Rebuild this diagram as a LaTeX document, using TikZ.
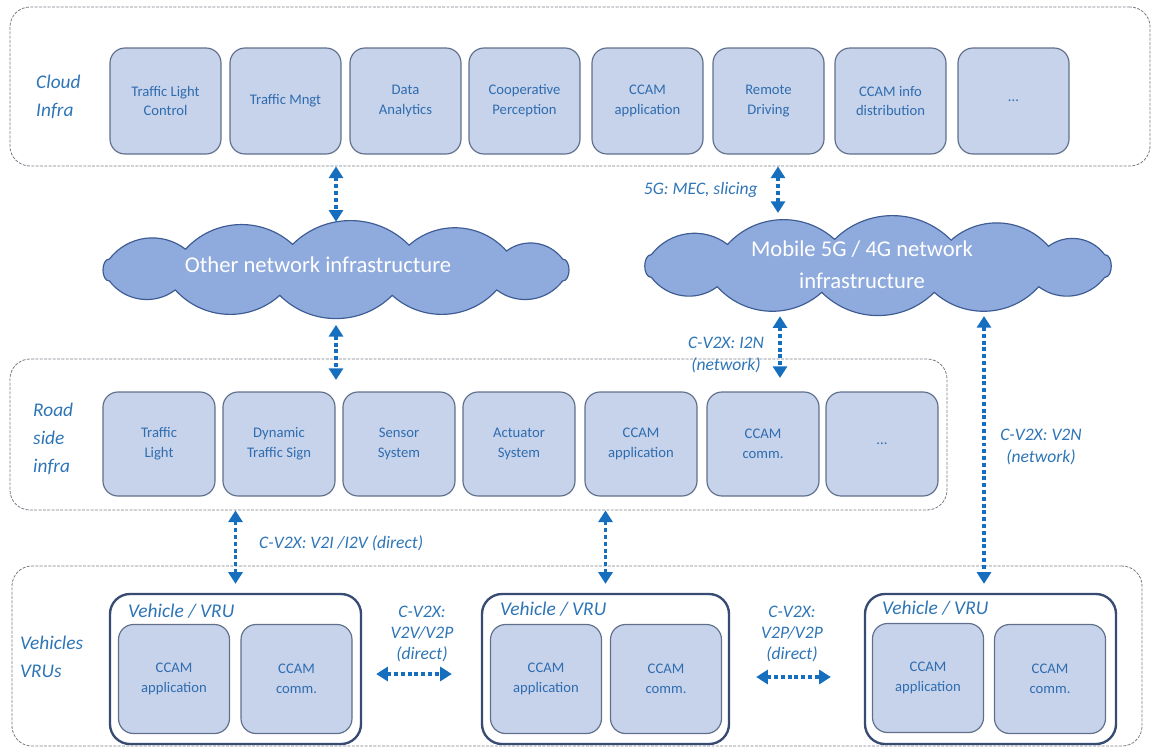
\documentclass[tikz,border=0pt]{standalone}
\usepackage{fontspec}
\setmainfont{Carlito}
\usetikzlibrary{arrows.meta,calc}
\definecolor{txtblue}{RGB}{46,117,182}
\definecolor{boxtxt}{RGB}{47,108,176}
\definecolor{boxfill}{RGB}{198,211,234}
\definecolor{boxdraw}{RGB}{96,112,140}
\definecolor{arrblue}{RGB}{22,110,190}
\definecolor{cloudfill}{RGB}{143,170,220}
\definecolor{clouddraw}{RGB}{62,92,148}
\definecolor{dashgray}{RGB}{120,125,135}
\definecolor{vehdraw}{RGB}{55,75,115}
\begin{document}
\begin{tikzpicture}[x=0.03cm,y=-0.03cm,
  group/.style={draw=dashgray, dash pattern=on 2.5pt off 1.2pt, line width=0.7pt, rounded corners=0.6cm},
  app/.style={draw=boxdraw, fill=boxfill, line width=1pt, rounded corners=0.45cm,
    minimum width=3.33cm, minimum height=3.18cm, align=center, text=boxtxt,
    font=\fontsize{12.5}{17}\selectfont, inner sep=2pt},
  rsu/.style={app, minimum width=3.36cm, minimum height=3.12cm},
  inner/.style={app, minimum width=3.33cm, minimum height=3.27cm},
  veh/.style={draw=vehdraw, fill=white, line width=2pt, rounded corners=0.6cm, minimum height=4.5cm},
  vtitle/.style={text=txtblue, font=\fontsize{16.6}{20}\selectfont\itshape, inner sep=0pt, anchor=west},
  layer/.style={text=txtblue, font=\fontsize{16.5}{24}\selectfont\itshape, align=left, anchor=west, inner sep=0pt},
  lbl/.style={text=txtblue, font=\fontsize{15}{18}\selectfont\itshape, align=center, inner sep=0pt},
  cloudarea/.style={inner sep=0pt},
  cloudpath/.style={fill=cloudfill, draw=clouddraw, line width=1pt},
  cloudtxt/.style={text=white, font=\fontsize{19.3}{27}\selectfont, align=center, inner sep=0pt},
  arr/.style={arrblue, line width=2.7pt, dash pattern=on 3.4pt off 2.4pt,
    {Triangle[width=12pt,length=10pt]}-{Triangle[width=12pt,length=10pt]}}
]
\useasboundingbox (0,0) rectangle (1155,750);

% layer containers
\node[group, minimum width=34.2cm, minimum height=4.77cm] (cinfra) at (580,86.5) {};
\node[group, minimum width=28.11cm, minimum height=4.53cm] (rinfra) at (478.5,434.5) {};
\node[group, minimum width=33.9cm, minimum height=5.4cm] (vinfra) at (577,656) {};

\node[layer] (lcloud) at (36,97) {Cloud\\Infra};
\node[layer] (lroad) at (33,439) {Road\\side\\infra};
\node[layer] (lveh) at (20,657) {Vehicles\\VRUs};

% cloud infra boxes
\node[app] (c1) at (165.5,101) {Traffic Light\\Control};
\node[app] (c2) at (285.5,101) {Traffic Mngt};
\node[app] (c3) at (405.5,101) {Data\\Analytics};
\node[app] (c4) at (524.5,101) {Cooperative\\Perception};
\node[app] (c5) at (647.5,101) {CCAM\\application};
\node[app] (c6) at (768.5,101) {Remote\\Driving};
\node[app] (c7) at (890.5,101) {CCAM info\\distribution};
\node[app] (c8) at (1013.5,101) {...};

% road side boxes
\node[rsu] (r1) at (159,444) {Traffic\\Light};
\node[rsu] (r2) at (279,444) {Dynamic\\Traffic Sign};
\node[rsu] (r3) at (399,444) {Sensor\\System};
\node[rsu] (r4) at (519,444) {Actuator\\System};
\node[rsu] (r5) at (641,444) {CCAM\\application};
\node[rsu] (r6) at (763,444) {CCAM\\comm.};
\node[rsu] (r7) at (882,444) {...};

% network clouds
\node[cloudarea, minimum width=14.46cm, minimum height=2.88cm] (ocloud) at (336,270) {};
\draw[cloudpath] ({336+250*cos(155)},{270-26*sin(155)})
  \foreach \a/\b in {127/45,100/45,73/45,47/45,25/45,-25/90,-50/45,-77/45,-103/45,-130/45,-155/45,-205/90}
  { to[bend left=\b] ({336+250*cos(\a)},{270-26*sin(\a)}) } -- cycle;
\node[cloudtxt] (otext) at (318,265) {Other network infrastructure};

\node[cloudarea, minimum width=14.55cm, minimum height=3cm] (mcloud) at (878,266) {};
\draw[cloudpath] ({878+250*cos(155)},{266-27*sin(155)})
  \foreach \a/\b in {127/45,100/45,73/45,47/45,25/45,-25/90,-50/45,-77/45,-103/45,-130/45,-155/45,-205/90}
  { to[bend left=\b] ({878+250*cos(\a)},{266-27*sin(\a)}) } -- cycle;
\node[cloudtxt] (mtext) at (862,265) {Mobile 5G / 4G network\\infrastructure};

% vehicles
\node[veh, minimum width=7.53cm] (v1) at (235.5,669) {};
\node[veh, minimum width=7.41cm] (v2) at (605.5,669) {};
\node[veh, minimum width=7.53cm] (v3) at (990.5,669) {};
\node[vtitle] (t1) at (128,611) {Vehicle / VRU};
\node[vtitle] (t2) at (500,609) {Vehicle / VRU};
\node[vtitle] (t3) at (882,608) {Vehicle / VRU};
\node[inner] (a1) at (174,679) {CCAM\\application};
\node[inner] (m1) at (296.5,679) {CCAM\\comm.};
\node[inner] (a2) at (546,679) {CCAM\\application};
\node[inner] (m2) at (666,679) {CCAM\\comm.};
\node[inner] (a3) at (928,678) {CCAM\\application};
\node[inner] (m3) at (1050,679) {CCAM\\comm.};

% connectors
\coordinate (g5) at (778,213);
\coordinate (e3) at (336,380);
\coordinate (e4) at (780,378);
\coordinate (s5) at (984,316);
\draw[arr] (cinfra.south -| ocloud.north) -- (ocloud.north);
\draw[arr] (cinfra.south -| g5) -- (g5);
\draw[arr, shorten <=0.2cm] (ocloud.south) -- (e3);
\draw[arr] (mcloud.south -| e4) -- (e4);
\draw[arr, shorten >=0.27cm] (s5) -- (v3.north -| s5);
\draw[arr, shorten >=0.27cm] (rinfra.south -| v1.north) -- (v1.north);
\draw[arr, shorten >=0.27cm] (rinfra.south -| v2.north) -- (v2.north);
\draw[arr] ($(v1.east)+(14,5)$) -- ($(v2.west)+(-29,5)$);
\draw[arr] ($(v2.east)+(26,8)$) -- ($(v3.west)+(-33,8)$);

% connector labels
\node[lbl, anchor=east] (l5g) at (758,190) {5G: MEC, slicing};
\node[lbl] (li2n) at (726,355) {C-V2X: I2N\\(network)};
\node[lbl] (lv2n) at (1041,447) {C-V2X: V2N\\(network)};
\node[lbl, anchor=west] (lv2i) at (259,543) {C-V2X: V2I /I2V (direct)};
\node[lbl] (lv2v) at (422,634) {C-V2X:\\V2V/V2P\\(direct)};
\node[lbl] (lv2p) at (792,634) {C-V2X:\\V2P/V2P\\(direct)};
\end{tikzpicture}
\end{document}
